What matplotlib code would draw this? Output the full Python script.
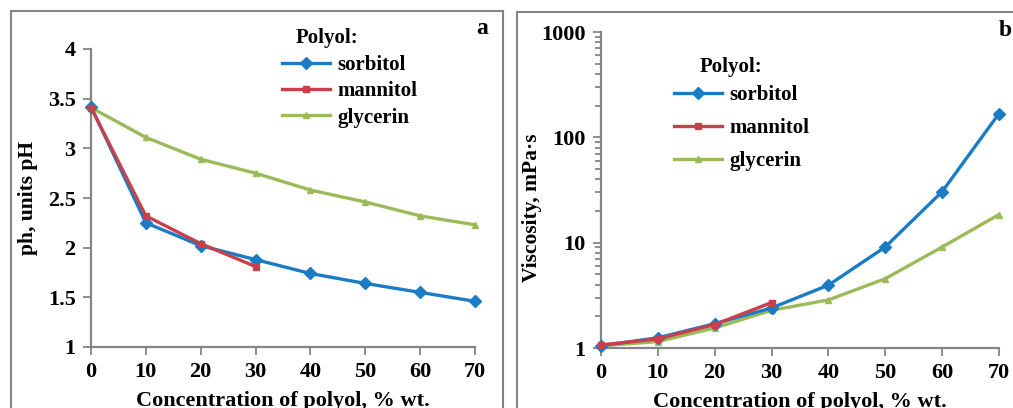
import matplotlib
matplotlib.use("Agg")
from matplotlib import pyplot as plt
from matplotlib.patches import Rectangle
from matplotlib.ticker import LogLocator, NullFormatter, FixedLocator

conc = [0, 10, 20, 30, 40, 50, 60, 70]
conc_mannitol = [0, 10, 20, 30]

# pH vs polyol concentration
ph_sorbitol = [3.42, 2.25, 2.02, 1.88, 1.74, 1.64, 1.55, 1.46]
ph_mannitol = [3.41, 2.32, 2.04, 1.81]
ph_glycerin = [3.41, 3.11, 2.89, 2.75, 2.58, 2.46, 2.32, 2.23]

# viscosity, mPa*s
visc_sorbitol = [1.05, 1.25, 1.70, 2.40, 3.95, 9.1, 30.5, 168]
visc_mannitol = [1.07, 1.22, 1.67, 2.70]
visc_glycerin = [1.05, 1.15, 1.55, 2.28, 2.86, 4.55, 9.1, 18.5]

BLUE = "#1a7cc4"
RED = "#c8404a"
GREEN = "#9bbb59"
GRAY = "#858585"

plt.rcParams['font.family'] = ['Liberation Serif', 'DejaVu Serif']
plt.rcParams['font.weight'] = 'bold'

W, H = 1013, 408
fig = plt.figure(figsize=(W / 100, H / 100), dpi=100)


def px_axes(x0, x1, ytop, ybot):
    return fig.add_axes([x0 / W, 1 - ybot / H, (x1 - x0) / W, (ybot - ytop) / H])


def style(ax):
    for s in ("top", "right"):
        ax.spines[s].set_visible(False)
    for s in ("left", "bottom"):
        ax.spines[s].set_color(GRAY)
        ax.spines[s].set_linewidth(1.6)
    ax.tick_params(which="both", direction="out", color=GRAY, width=1.3,
                   labelsize=16)
    ax.tick_params(which="major", length=6, pad=5)
    ax.tick_params(which="minor", length=4)
    ax.set_xlim(0, 70)
    ax.set_xticks(conc)
    ax.set_xlabel("Concentration of polyol, % wt.", fontsize=16,
                  fontweight="bold", labelpad=6)


def draw(ax, ys, yman, ygly):
    ax.plot(conc, ys, color=BLUE, lw=2.4, marker="D", ms=6,
            label="sorbitol", clip_on=False, zorder=3)
    ax.plot(conc_mannitol, yman, color=RED, lw=2.4, marker="s", ms=5,
            label="mannitol", clip_on=False, zorder=4)
    ax.plot(conc, ygly, color=GREEN, lw=2.4, marker="^", ms=5,
            label="glycerin", clip_on=False, zorder=2)


# panel frames
fig.patches.append(Rectangle((11 / W, -0.05), 492 / W, 1 - 11 / H + 0.05,
                             transform=fig.transFigure, fill=False,
                             ec=GRAY, lw=1.5))
fig.patches.append(Rectangle((517 / W, -0.05), 0.6, 1 - 12 / H + 0.05,
                             transform=fig.transFigure, fill=False,
                             ec=GRAY, lw=1.5))

# (a) pH
ax1 = px_axes(91, 475, 49, 347)
draw(ax1, ph_sorbitol, ph_mannitol, ph_glycerin)
style(ax1)
ax1.set_ylim(1, 4)
ax1.set_yticks([1, 1.5, 2, 2.5, 3, 3.5, 4])
ax1.set_yticklabels(["1", "1.5", "2", "2.5", "3", "3.5", "4"])
ax1.set_ylabel("ph, units pH", fontsize=15.5, fontweight="bold")
ax1.yaxis.set_label_coords(-0.138, 0.5)
leg1 = ax1.legend(loc="upper left", bbox_to_anchor=(282 / W, 1 - 55 / H),
                  bbox_transform=fig.transFigure, frameon=False,
                  fontsize=15, handlelength=2.3, handletextpad=0.35,
                  labelspacing=0.3, borderaxespad=0, borderpad=0)
fig.text(296 / W, 1 - 38 / H, "Polyol:", fontsize=15, fontweight="bold",
         va="center", ha="left")
fig.text(482 / W, 1 - 28 / H, "a", fontsize=17, fontweight="bold",
         va="center", ha="center")

# (b) viscosity
ax2 = px_axes(601, 999, 32, 348)
draw(ax2, visc_sorbitol, visc_mannitol, visc_glycerin)
style(ax2)
ax2.set_yscale("log")
ax2.set_ylim(1, 1000)
ax2.yaxis.set_major_locator(FixedLocator([1, 10, 100, 1000]))
ax2.set_yticklabels(["1", "10", "100", "1000"])
ax2.yaxis.set_minor_locator(LogLocator(base=10, subs=range(2, 10)))
ax2.yaxis.set_minor_formatter(NullFormatter())
ax2.set_ylabel("Viscosity, mPa·s", fontsize=15.5, fontweight="bold")
ax2.yaxis.set_label_coords(-0.148, 0.445)
leg2 = ax2.legend(loc="upper left", bbox_to_anchor=(674 / W, 1 - 85 / H),
                  bbox_transform=fig.transFigure, frameon=False,
                  fontsize=15, handlelength=2.3, handletextpad=0.35,
                  labelspacing=0.62, borderaxespad=0, borderpad=0)
fig.text(700 / W, 1 - 67 / H, "Polyol:", fontsize=15, fontweight="bold",
         va="center", ha="left")
fig.text(1005 / W, 1 - 30 / H, "b", fontsize=17, fontweight="bold",
         va="center", ha="center")

fig.savefig("out.png", dpi=100)
